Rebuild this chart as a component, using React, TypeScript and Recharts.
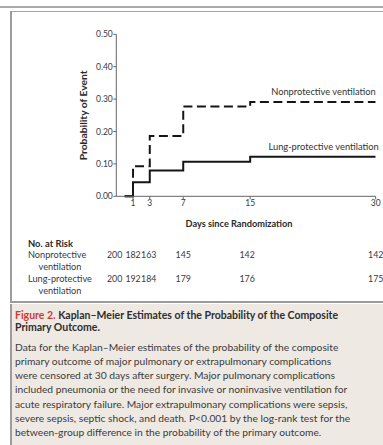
import React from 'react';
import { LineChart, Line, XAxis, YAxis, Label, LabelList } from 'recharts';

// Kaplan–Meier step estimates (probability of the composite primary outcome)
const days = [0, 1, 3, 7, 15, 30];
const nonprotective = [0, 0.093, 0.186, 0.277, 0.291, 0.291];
const lungProtective = [0, 0.043, 0.08, 0.107, 0.122, 0.122];

const xTicks = [1, 3, 7, 15, 30];
const yTicks = [0, 0.1, 0.2, 0.3, 0.4, 0.5];
const xDomain: [number, number] = [-1, 30];

// Number at risk table
const riskDays = [0, 1, 3, 7, 15, 30];
const riskNudge = [-10, 0, -1, 0, -3, 0];
const riskNonprotective = [200, 182, 163, 145, 142, 142];
const riskLungProtective = [200, 192, 184, 179, 176, 175];

const seriesNames = ['Nonprotective ventilation', 'Lung-protective ventilation'];

const captionTitle = 'Kaplan–Meier Estimates of the Probability of the Composite';
const captionTitle2 = 'Primary Outcome.';
const captionBody = [
  'Data for the Kaplan–Meier estimates of the probability of the composite',
  'primary outcome of major pulmonary or extrapulmonary complications',
  'were censored at 30 days after surgery. Major pulmonary complications',
  'included pneumonia or the need for invasive or noninvasive ventilation for',
  'acute respiratory failure. Major extrapulmonary complications were sepsis,',
  'severe sepsis, septic shock, and death. P<0.001 by the log-rank test for the',
  'between-group difference in the probability of the primary outcome.',
];

const rows = days.map((d, i) => ({ day: d, nonprot: nonprotective[i], lung: lungProtective[i] }));

const FONT = 'Lato, "Open Sans", sans-serif';
const W = 383;
const H = 445;
const CHART_H = 240;
const M = { top: 34.3, right: 7.3, bottom: 23.7, left: 50 };
const Y_AXIS_W = 66.3;
const X_AXIS_H = 20;
const plotLeft = M.left + Y_AXIS_W;
const plotRight = W - M.right;

// horizontal position of a day value, same linear mapping as the x axis
const xOf = (d: number) => plotLeft + ((d - xDomain[0]) / (xDomain[1] - xDomain[0])) * (plotRight - plotLeft);

const seriesLabel = (name: string, dx: number) => (props: any) => {
  const { x, y, index } = props;
  if (index !== days.length - 1) return null;
  return (
    <text x={x + dx} y={y - 6.7} textAnchor="end" fontSize={9.3} fill="#333" fontFamily={FONT}>
      {name}
    </text>
  );
};

const YTitle = (props: any) => {
  const vb = props.viewBox;
  const cx = vb.x + vb.width / 2;
  const cy = vb.y + vb.height / 2;
  return (
    <text x={cx} y={cy} transform={`rotate(-90, ${cx}, ${cy})`} textAnchor="middle" dominantBaseline="central"
      fontSize={10.3} fontWeight={700} fill="#2a2a2a" fontFamily={FONT}>
      Probability of Event
    </text>
  );
};

const XTitle = (props: any) => {
  const vb = props.viewBox;
  return (
    <text x={vb.x + vb.width / 2 - 7} y={vb.y + 30.5} textAnchor="middle"
      fontSize={9.2} fontWeight={700} fill="#2a2a2a" fontFamily={FONT}>
      Days since Randomization
    </text>
  );
};

export default function App() {
  const tickStyle = { fontSize: 8.5, fill: '#3a3a3a', fontFamily: FONT };
  return (
    <div style={{ position: 'absolute', left: 0, top: 0, width: W, height: H, background: '#fff', overflow: 'hidden', fontFamily: FONT }}>
      {/* top rule */}
      <div style={{ position: 'absolute', left: 0, top: 6, width: W, height: 2, background: '#a9a9a9' }} />
      {/* figure panel */}
      <div style={{ position: 'absolute', left: 10, top: 11, width: 400, height: 292, boxSizing: 'border-box',
        borderLeft: '2px solid #9c9c9c', borderTop: '1.5px solid #a4a4a4', borderBottom: '2px solid #9c9c9c', background: '#fff' }} />
      {/* caption panel */}
      <div style={{ position: 'absolute', left: 10, top: 304, width: 400, height: 141, boxSizing: 'border-box',
        borderLeft: '2px solid #9c9c9c', background: '#efe9e3' }}>
        <div style={{ position: 'absolute', left: 3, top: 5, lineHeight: '12px', fontSize: 10.5, fontWeight: 700, color: '#2e2e2e', whiteSpace: 'nowrap' }}>
          <div><span style={{ color: '#cf3a30' }}>Figure 2.</span> {captionTitle}</div>
          <div>{captionTitle2}</div>
        </div>
        <div style={{ position: 'absolute', left: 3, top: 35.5, lineHeight: '14.3px', fontSize: 10.25, color: '#3b3b3b', whiteSpace: 'nowrap' }}>
          {captionBody.map((t, i) => <div key={i}>{t}</div>)}
        </div>
      </div>

      <div style={{ position: 'absolute', left: 0, top: 0 }}>
        <LineChart width={W} height={CHART_H} data={rows} margin={M}>
          <XAxis dataKey="day" type="number" domain={xDomain} ticks={xTicks} interval={0} allowDataOverflow
            height={X_AXIS_H} tick={tickStyle} tickSize={3} tickMargin={1}
            axisLine={{ stroke: '#666', strokeWidth: 1 }} tickLine={{ stroke: '#666' }}>
            <Label content={XTitle} />
          </XAxis>
          <YAxis type="number" domain={[0, 0.5]} ticks={yTicks} interval={0} width={Y_AXIS_W}
            tickFormatter={(v: number) => v.toFixed(2)} tick={tickStyle} tickSize={3} tickMargin={0.5}
            axisLine={{ stroke: '#666', strokeWidth: 1 }} tickLine={{ stroke: '#666' }}>
            <Label content={YTitle} />
          </YAxis>
          <Line dataKey="nonprot" type="stepAfter" stroke="#151515" strokeWidth={2} strokeDasharray="9 4.5"
            dot={false} isAnimationActive={false}>
            <LabelList dataKey="nonprot" content={seriesLabel(seriesNames[0], 0)} />
          </Line>
          <Line dataKey="lung" type="stepAfter" stroke="#151515" strokeWidth={2}
            dot={false} isAnimationActive={false}>
            <LabelList dataKey="lung" content={seriesLabel(seriesNames[1], 3)} />
          </Line>
        </LineChart>
      </div>

      {/* number at risk */}
      <svg width={W} height={H} style={{ position: 'absolute', left: 0, top: 0, pointerEvents: 'none' }} fontFamily={FONT}>
        <text x={28} y={247} fontSize={9.4} fontWeight={700} fill="#2a2a2a">No. at Risk</text>
        <text x={28} y={258} fontSize={9.2} fill="#3a3a3a">Nonprotective</text>
        <text x={60} y={269.5} fontSize={9.2} fill="#3a3a3a" textAnchor="middle">ventilation</text>
        <text x={28} y={282} fontSize={9.2} fill="#3a3a3a">Lung-protective</text>
        <text x={60} y={293.5} fontSize={9.2} fill="#3a3a3a" textAnchor="middle">ventilation</text>
        {riskDays.map((d, i) => (
          <text key={'n' + d} x={xOf(d) + riskNudge[i]} y={258} fontSize={8.8} fill="#3a3a3a" textAnchor="middle">
            {riskNonprotective[i]}
          </text>
        ))}
        {riskDays.map((d, i) => (
          <text key={'l' + d} x={xOf(d) + riskNudge[i]} y={282} fontSize={8.8} fill="#3a3a3a" textAnchor="middle">
            {riskLungProtective[i]}
          </text>
        ))}
      </svg>
    </div>
  );
}
